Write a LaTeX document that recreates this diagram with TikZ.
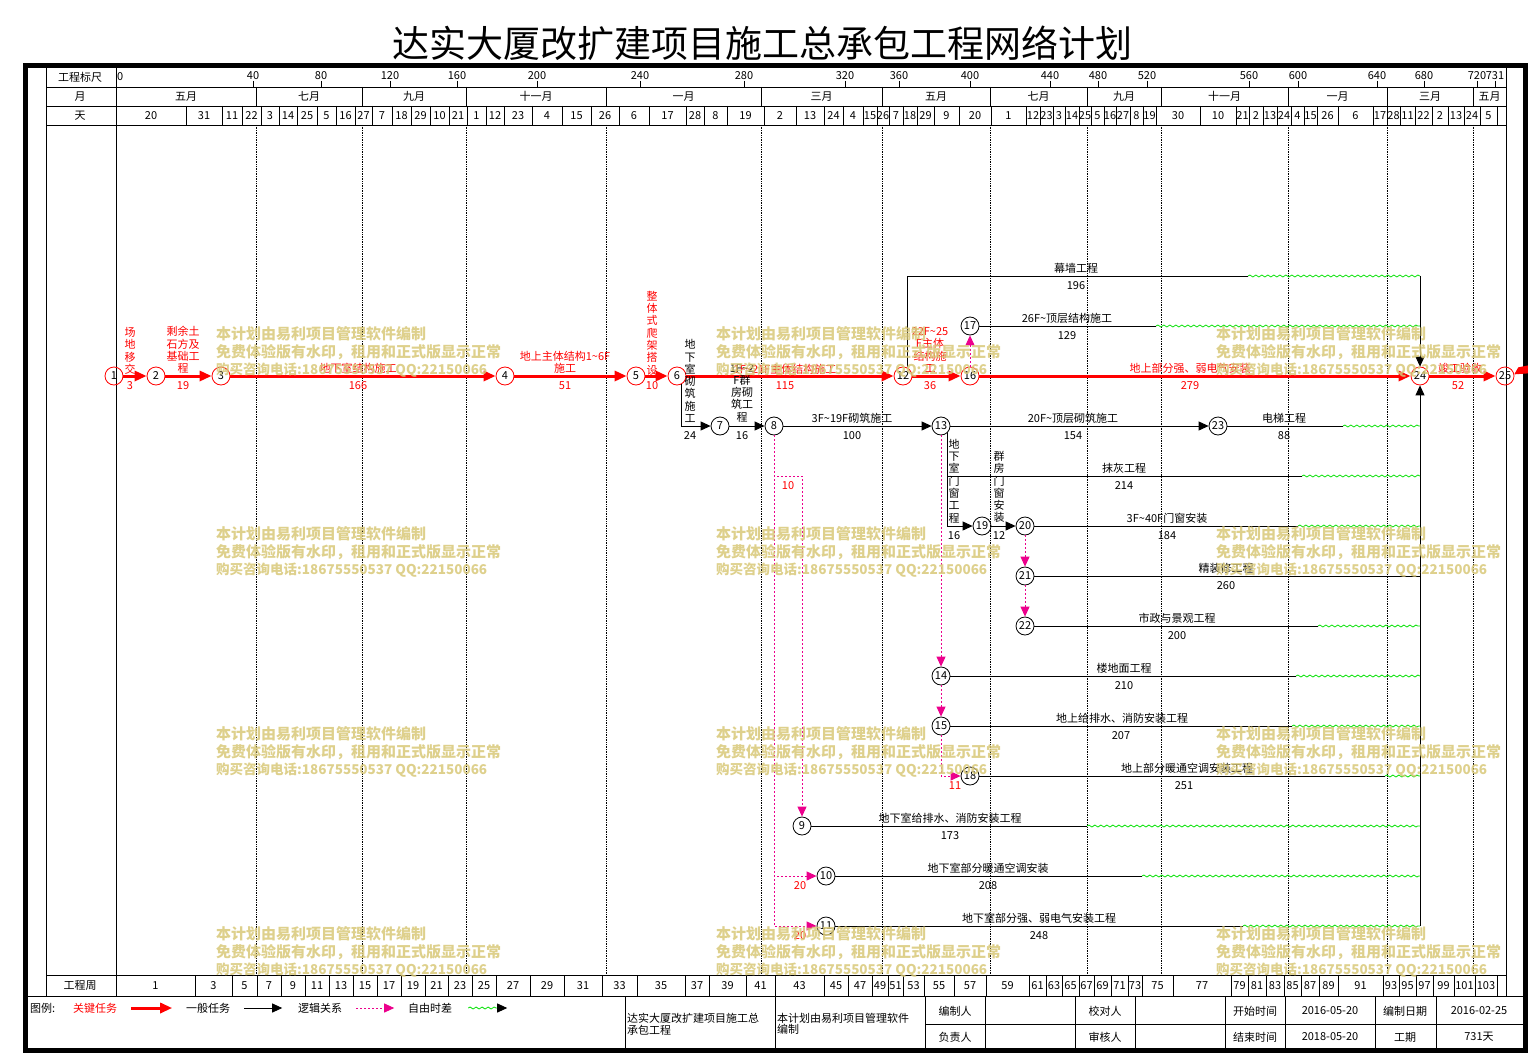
\documentclass[tikz,border=0pt]{standalone}
\usepackage{fontspec}
\setmainfont{Noto Sans CJK SC}
\usetikzlibrary{arrows.meta}
\usetikzlibrary{decorations.pathmorphing}
\definecolor{wmark}{RGB}{216,200,120}
\definecolor{wavegreen}{RGB}{0,225,0}

\begin{document}
\begin{tikzpicture}[x=1pt, y=-1pt,
  every node/.style={inner sep=0pt},
  font=\fontsize{11}{12}\selectfont,
  evt/.style={circle, draw, line width=0.8pt, minimum size=18pt, font=\fontsize{11}{11}\selectfont},
  cevt/.style={evt, draw=red},
  crit/.style={red, line width=3pt, -{Triangle[length=12pt,width=10pt]}},
  task/.style={line width=0.9pt},
  tarr/.style={task, -{Triangle[length=10pt,width=9pt]}},
  logic/.style={magenta, line width=0.9pt, dash pattern=on 1.5pt off 2.5pt, -{Triangle[length=10pt,width=9pt]}},
  slack/.style={wavegreen, line width=0.8pt, decorate, decoration={snake, amplitude=1pt, segment length=6pt}},
  lab/.style={align=center, font=\fontsize{11}{12.3}\selectfont},
  clab/.style={lab, red},
  monthline/.style={line width=0.7pt, densely dotted},
  wm/.style={wmark, anchor=west, opacity=0.85, font=\bfseries\fontsize{15}{18}\selectfont}
]
\useasboundingbox (0,0) rectangle (1528,1054);

\node[name=title, font=\fontsize{37}{37}\selectfont] at (762,43) {达实大厦改扩建项目施工总承包工程网络计划};

\draw[line width=5pt] (25.5,66) rectangle (1525,1050.5);
\draw (46,66) -- (46,996);
\draw (116,66) -- (116,996);
\draw (1506,66) -- (1506,996);
\draw (46,87) -- (1506,87);
\draw (46,106) -- (1506,106);
\draw (46,125) -- (1506,125);
\draw (46,975) -- (1506,975);
\draw (25,996) -- (1525,996);

\node[name=rowscale] at (80,77) {工程标尺};
\node[name=rowmonth] at (80,96.5) {月};
\node[name=rowday] at (80,115.5) {天};
\node[name=rowweek] at (80,985.5) {工程周};

\node[anchor=west] at (117,77) {0};
\foreach \x/\t in {253/40, 321/80, 390/120, 457/160, 537/200, 640/240, 744/280, 845/320, 899/360, 970/400, 1050/440, 1098/480, 1147/520, 1249/560, 1298/600, 1377/640, 1424/680, 1477/720, 1495/731} {
  \draw (\x,81) -- (\x,87);
  \node at (\x,76) {\t};
}

\foreach \a/\b/\t in {116/256/五月, 256/362/七月, 362/466/九月, 466/606/十一月, 606/761/一月, 761/882/三月, 882/990/五月, 990/1087/七月, 1087/1161/九月, 1161/1288/十一月, 1288/1387/一月, 1387/1473/三月, 1473/1506/五月} {
  \draw (\b,87) -- (\b,106);
  \node at ({(\a+\b)/2},96.5) {\t};
}

\foreach \a/\b/\t in {116/186/20, 186/222/31, 222/242/11, 242/261/22, 261/279/3, 279/297/14, 297/317/25, 317/336/5, 336/355/16, 355/372/27, 372/392/7, 392/411/18, 411/430/29, 430/449/10, 449/467/21, 467/486/1, 486/504/12, 504/532/23, 532/562/4, 562/591/15, 591/619/26, 619/649/6, 649/686/17, 686/704/28, 704/727/8, 727/764/19, 764/796/2, 796/824/13, 824/843/24, 843/863/4, 863/877/15, 877/889/26, 889/903/7, 903/917/18, 917/934/29, 934/959/9, 959/991/20, 991/1026/1, 1026/1040/12, 1040/1053/23, 1053/1065/3, 1065/1079/14, 1079/1091/25, 1091/1104/5, 1104/1116/16, 1116/1130/27, 1130/1143/8, 1143/1156/19, 1156/1200/30, 1200/1236/10, 1236/1249/21, 1249/1263/2, 1263/1277/13, 1277/1291/24, 1291/1304/4, 1304/1317/15, 1317/1338/26, 1338/1373/6, 1373/1387/17, 1387/1400/28, 1400/1415/11, 1415/1432/22, 1432/1448/2, 1448/1464/13, 1464/1480/24, 1480/1497/5} {
  \draw (\b,106) -- (\b,125);
  \node at ({(\a+\b)/2},115.5) {\t};
}

\foreach \a/\b/\t in {116/195/1, 195/232/3, 232/257/5, 257/281/7, 281/305/9, 305/329/11, 329/353/13, 353/377/15, 377/401/17, 401/425/19, 425/448/21, 448/472/23, 472/496/25, 496/530/27, 530/564/29, 564/602/31, 602/637/33, 637/685/35, 685/709/37, 709/746/39, 746/775/41, 775/824/43, 824/848/45, 848/872/47, 872/888/49, 888/903/51, 903/924/53, 924/954/55, 954/986/57, 986/1029/59, 1029/1046/61, 1046/1062/63, 1062/1079/65, 1079/1094/67, 1094/1111/69, 1111/1128/71, 1128/1142/73, 1142/1173/75, 1173/1231/77, 1231/1248/79, 1248/1266/81, 1266/1284/83, 1284/1301/85, 1301/1319/87, 1319/1338/89, 1338/1383/91, 1383/1399/93, 1399/1416/95, 1416/1433/97, 1433/1454/99, 1454/1475/101, 1475/1497/103} {
  \draw (\b,975) -- (\b,996);
  \node at ({(\a+\b)/2},985.5) {\t};
}

\foreach \x in {256,362,466,606,761,882,990,1087,1161,1288,1387,1473}
  \draw[monthline] (\x,125) -- (\x,975);

\node[cevt, name=one] at (114,376) {1};
\node[cevt, name=two] at (156,376) {2};
\node[cevt, name=three] at (221,376) {3};
\node[cevt, name=four] at (505,376) {4};
\node[cevt, name=five] at (636,376) {5};
\node[cevt, name=six] at (677,376) {6};
\node[cevt, name=twelve] at (903,376) {12};
\node[cevt, name=sixteen] at (970,376) {16};
\node[cevt, name=twentyfour] at (1420,376) {24};
\node[cevt, name=twentyfive] at (1505,376) {25};
\node[evt, name=seven] at (720,426) {7};
\node[evt, name=eight] at (774,426) {8};
\node[evt, name=thirteen] at (941,426) {13};
\node[evt, name=twentythree] at (1218,426) {23};
\node[evt, name=seventeen] at (970,326) {17};
\node[evt, name=nineteen] at (982,526) {19};
\node[evt, name=twenty] at (1025,526) {20};
\node[evt, name=twentyone] at (1025,576) {21};
\node[evt, name=twentytwo] at (1025,626) {22};
\node[evt, name=fourteen] at (941,676) {14};
\node[evt, name=fifteen] at (941,726) {15};
\node[evt, name=eighteen] at (970,776) {18};
\node[evt, name=nine] at (802,826) {9};
\node[evt, name=ten] at (826,876) {10};
\node[evt, name=eleven] at (826,926) {11};

\coordinate (topright) at (1420,276);
\coordinate (botright) at (1420,926);
\coordinate (wallwave) at (1248,276);
\coordinate (sevwave) at (1156,326);
\coordinate (liftwave) at (1343,426);
\coordinate (plastwave) at (1302,476);
\coordinate (winwave) at (1298,526);
\coordinate (decoend) at (1420,576);
\coordinate (parkwave) at (1318,626);
\coordinate (floorwave) at (1296,676);
\coordinate (waterwave) at (1292,726);
\coordinate (hvacwave) at (1385,776);
\coordinate (bwaterwave) at (1087,826);
\coordinate (bhvacwave) at (1142,876);
\coordinate (belecwave) at (1243,926);
\coordinate (floatturn) at (802,476);

\draw (one) edge[crit] (two);
\draw (two) edge[crit] (three);
\draw (three) edge[crit] (four);
\draw (four) edge[crit] (five);
\draw (five) edge[crit] (six);
\draw (six) edge[crit] (twelve);
\draw (twelve) edge[crit] (sixteen);
\draw (sixteen) edge[crit] (twentyfour);
\draw (twentyfour) edge[crit] (twentyfive);
\fill[red] (twentyfive.10) -- ++(4,-7) -- ++(15,-3) -- ++(-5,9) -- cycle;

\draw[tarr] (six.-60) |- (seven);
\draw (seven) edge[tarr] (eight);
\draw (eight) edge[tarr] (thirteen);
\draw (thirteen) edge[tarr] (twentythree);
\draw[task] (twelve.65) |- (wallwave);
\draw[slack] (wallwave) -- (topright);
\draw[tarr] (topright) -- (twentyfour);
\draw[tarr] (botright) -- (twentyfour);
\draw[task] (seventeen) -- (sevwave);
\draw[slack] (sevwave) -- (topright |- sevwave);
\draw[task] (twentythree) -- (liftwave);
\draw[slack] (liftwave) -- (topright |- liftwave);
\draw[task] (thirteen.-50) |- (plastwave);
\draw[slack] (plastwave) -- (topright |- plastwave);
\draw[tarr] (thirteen.-50) |- (nineteen);
\draw (nineteen) edge[tarr] (twenty);
\draw[task] (twenty) -- (winwave);
\draw[slack] (winwave) -- (topright |- winwave);
\draw[task] (twentyone) -- (decoend);
\draw[task] (twentytwo) -- (parkwave);
\draw[slack] (parkwave) -- (topright |- parkwave);
\draw[task] (fourteen) -- (floorwave);
\draw[slack] (floorwave) -- (topright |- floorwave);
\draw[task] (fifteen) -- (waterwave);
\draw[slack] (waterwave) -- (topright |- waterwave);
\draw[task] (eighteen) -- (hvacwave);
\draw[slack] (hvacwave) -- (topright |- hvacwave);
\draw[task] (nine) -- (bwaterwave);
\draw[slack] (bwaterwave) -- (topright |- bwaterwave);
\draw[task] (ten) -- (bhvacwave);
\draw[slack] (bhvacwave) -- (topright |- bhvacwave);
\draw[task] (eleven) -- (belecwave);
\draw[slack] (belecwave) -- (botright);

\draw (sixteen) edge[logic] (seventeen);
\draw (twenty) edge[logic] (twentyone);
\draw (twentyone) edge[logic] (twentytwo);
\draw (thirteen) edge[logic] (fourteen);
\draw (fourteen) edge[logic] (fifteen);
\draw[logic] (fifteen) |- (eighteen);
\draw[logic] (eight) |- (floatturn) -- (nine);
\draw[logic] (eight) |- (ten);
\draw[logic] (eight) |- (eleven);

\node[clab] at (130,351) {场\\地\\移\\交};
\node[clab] at (130,386) {3};
\node[clab] at (183,350) {剩余土\\石方及\\基础工\\程};
\node[clab] at (183,386) {19};
\node[clab] at (358,368) {地下室结构施工};
\node[clab] at (358,386) {166};
\node[clab] at (565,362) {地上主体结构1\textasciitilde{}6F\\施工};
\node[clab] at (565,386) {51};
\node[clab] at (652,333) {整\\体\\式\\爬\\架\\搭\\设};
\node[clab] at (652,386) {10};
\node[clab] at (785,369) {1F\textasciitilde{}21F主体结构施工};
\node[clab] at (785,386) {115};
\node[clab] at (930,350) {22F\textasciitilde{}25\\F主体\\结构施\\工};
\node[clab] at (930,386) {36};
\node[clab] at (1190,368) {地上部分强、弱电气安装};
\node[clab] at (1190,386) {279};
\node[clab] at (1460,368) {竣工验收};
\node[clab] at (1458,386) {52};

\node[lab] at (690,381) {地\\下\\室\\砌\\筑\\施\\工};
\node[lab] at (690,436) {24};
\node[lab] at (742,393) {1F\textasciitilde{}2\\F群\\房砌\\筑工\\程};
\node[lab] at (742,436) {16};
\node[lab] at (852,418) {3F\textasciitilde{}19F砌筑施工};
\node[lab] at (852,436) {100};
\node[lab] at (1076,268) {幕墙工程};
\node[lab] at (1076,286) {196};
\node[lab] at (1067,318) {26F\textasciitilde{}顶层结构施工};
\node[lab] at (1067,336) {129};
\node[lab] at (1073,418) {20F\textasciitilde{}顶层砌筑施工};
\node[lab] at (1073,436) {154};
\node[lab] at (1284,418) {电梯工程};
\node[lab] at (1284,436) {88};
\node[lab] at (1124,468) {抹灰工程};
\node[lab] at (1124,486) {214};
\node[lab] at (954,481) {地\\下\\室\\门\\窗\\工\\程};
\node[lab] at (954,536) {16};
\node[lab] at (999,487) {群\\房\\门\\窗\\安\\装};
\node[lab] at (999,536) {12};
\node[lab] at (1167,518) {3F\textasciitilde{}40F门窗安装};
\node[lab] at (1167,536) {184};
\node[lab] at (1226,568) {精装修工程};
\node[lab] at (1226,586) {260};
\node[lab] at (1177,618) {市政与景观工程};
\node[lab] at (1177,636) {200};
\node[lab] at (1124,668) {楼地面工程};
\node[lab] at (1124,686) {210};
\node[lab] at (1122,718) {地上给排水、消防安装工程};
\node[lab] at (1121,736) {207};
\node[lab] at (1187,768) {地上部分暖通空调安装工程};
\node[lab] at (1184,786) {251};
\node[lab] at (950,818) {地下室给排水、消防安装工程};
\node[lab] at (950,836) {173};
\node[lab] at (988,868) {地下室部分暖通空调安装};
\node[lab] at (988,886) {208};
\node[lab] at (1039,918) {地下室部分强、弱电气安装工程};
\node[lab] at (1039,936) {248};
\node[clab] at (788,486) {10};
\node[clab] at (955,786) {11};
\node[clab] at (800,886) {20};
\node[clab] at (800,936) {20};

\node[anchor=west, name=legend] at (30,1008) {图例:};
\node[red, name=keytask] at (95,1008) {关键任务};
\draw[crit] ([xshift=14]keytask.east) -- ([xshift=55]keytask.east);
\node[name=gentask] at (208,1008) {一般任务};
\draw[tarr] ([xshift=14]gentask.east) -- ([xshift=52]gentask.east);
\node[name=logicrel] at (320,1008) {逻辑关系};
\draw[logic] ([xshift=14]logicrel.east) -- ([xshift=52]logicrel.east);
\node[name=freefloat] at (430,1008) {自由时差};
\draw[slack] ([xshift=16]freefloat.east) -- ([xshift=46]freefloat.east);
\draw[tarr] ([xshift=45]freefloat.east) -- ([xshift=55]freefloat.east);

\foreach \x in {625,775,925,985,1075,1135,1225,1285,1375,1436}
  \draw (\x,996) -- (\x,1050);
\draw (925,1024) -- (1525,1024);
\node[anchor=north west, align=left, font=\fontsize{11}{11.5}\selectfont] at (627,1013) {达实大厦改扩建项目施工总\\承包工程};
\node[anchor=north west, align=left, font=\fontsize{11}{11.5}\selectfont] at (777,1013) {本计划由易利项目管理软件\\编制};
\node at (955,1011) {编制人};
\node at (955,1037) {负责人};
\node at (1105,1011) {校对人};
\node at (1105,1037) {审核人};
\node at (1255,1011) {开始时间};
\node at (1255,1037) {结束时间};
\node at (1330,1011) {2016-05-20};
\node at (1330,1037) {2018-05-20};
\node at (1405,1011) {编制日期};
\node at (1405,1037) {工期};
\node at (1479,1011) {2016-02-25};
\node at (1479,1037) {731天};

\foreach \x in {216,716,1216}
  \foreach \y in {334,534,734,934} {
    \node[wm] at (\x,\y) {本计划由易利项目管理软件编制};
    \node[wm] at (\x,\y+18) {免费体验版有水印，租用和正式版显示正常};
    \node[wm, font=\bfseries\fontsize{13.5}{18}\selectfont] at (\x,\y+36) {购买咨询电话:18675550537 QQ:22150066};
  }
\end{tikzpicture}
\end{document}
